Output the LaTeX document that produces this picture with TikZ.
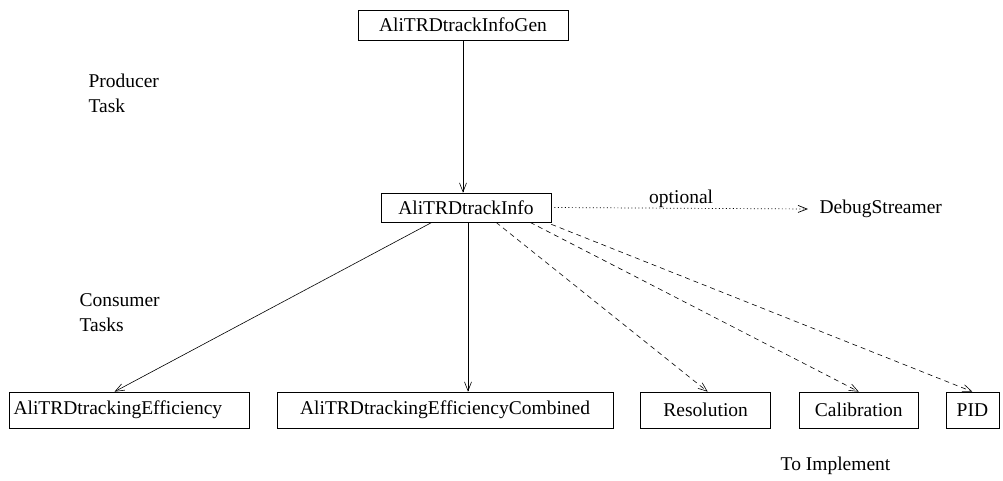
\documentclass[tikz,border=0pt]{standalone}
\usepackage{fontspec}
\setmainfont{Liberation Serif}
\usetikzlibrary{arrows.meta,positioning}

\begin{document}
\begin{tikzpicture}[
  x=1pt, y=-1pt,
  node distance=27pt,
  font=\fontsize{19.5}{25}\selectfont,
  taskbox/.style={rectangle, draw, line width=0.6pt, minimum height=36pt, inner sep=4pt},
  topbox/.style={taskbox, minimum height=30pt},
  flow/.style={line width=0.6pt, -{Straight Barb[length=9pt,width=7pt]}},
  todo/.style={flow, dash pattern=on 5pt off 4pt},
  maybe/.style={flow, line width=0.7pt, dash pattern=on 1pt off 2.5pt}
]
\useasboundingbox (0,0) rectangle (1003,480);

% producer side
\node[topbox, minimum width=210pt] (gen) at (463,25) {AliTRDtrackInfoGen};
\node[topbox, minimum width=170pt, minimum height=29pt] (info) at (466,207.5) {AliTRDtrackInfo};
\draw[flow] (gen.south) -- (gen.south |- info.north);

\node[align=left, anchor=west] (producer) at (85,93.5) {Producer\\Task};
\node[align=left, anchor=west] (consumer) at (76,312.5) {Consumer\\Tasks};

% optional output
\node[anchor=west] (debug) at (816,209) {DebugStreamer};
\draw[maybe] ([xshift=3pt]info.east) -- ([xshift=-8pt]debug.west)
  node[midway, above, yshift=-3pt] {optional};

% consumer tasks
\node[taskbox, text width=232pt, align=left] (eff) at (129.5,410) {AliTRDtrackingEfficiency};
\node[taskbox, minimum width=336pt, right=of eff] (effcomb) {AliTRDtrackingEfficiencyCombined};
\node[taskbox, minimum width=130pt, right=of effcomb] (reso) {Resolution};
\node[taskbox, minimum width=119pt, right=28pt of reso] (calib) {Calibration};
\node[taskbox, minimum width=53pt, right=27pt of calib] (pid) {PID};
\node (todolabel) at (835.5,466) {To Implement};

\draw[flow] ([xshift=-34pt]info.south) -- ([xshift=-15pt]eff.north);
\draw[flow] ([xshift=2pt]info.south) -- ([xshift=2pt]info.south |- effcomb.north);
\draw[todo] ([xshift=30pt]info.south) -- ([xshift=2pt]reso.north);
\draw[todo] ([xshift=64pt]info.south) -- (calib.north);
\draw[todo] ([yshift=-2pt]info.south east) -- (pid.north);

\end{tikzpicture}
\end{document}
